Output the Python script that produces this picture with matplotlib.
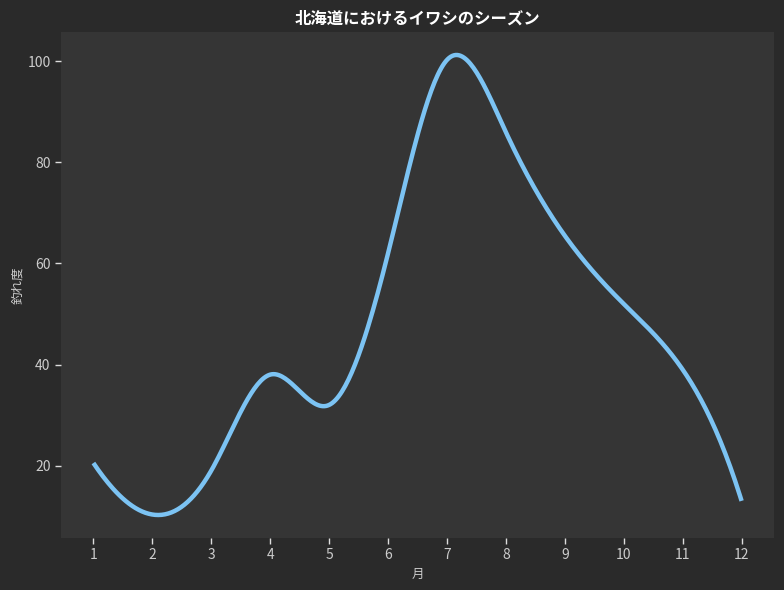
import numpy as np
import matplotlib
matplotlib.use("Agg")
import matplotlib.pyplot as plt

plt.rcParams['font.family'] = ['Noto Sans CJK JP', 'DejaVu Sans']

months = [1, 2, 3, 4, 5, 6, 7, 8, 9, 10, 11, 12]
catch_rate = [20.5, 10.3, 19.0, 38.0, 32.0, 62.0, 100.3, 86.0, 65.5, 52.0, 39.0, 13.0]
title = "北海道におけるイワシのシーズン"
xlabel = "月"
ylabel = "釣れ度"


def not_a_knot_spline(x, y, xs):
    x = np.asarray(x, float)
    y = np.asarray(y, float)
    n = len(x)
    h = np.diff(x)
    A = np.zeros((n, n))
    b = np.zeros(n)
    A[0, 0] = -1 / h[0]
    A[0, 1] = 1 / h[0] + 1 / h[1]
    A[0, 2] = -1 / h[1]
    for i in range(1, n - 1):
        A[i, i - 1] = h[i - 1]
        A[i, i] = 2 * (h[i - 1] + h[i])
        A[i, i + 1] = h[i]
        b[i] = 6 * ((y[i + 1] - y[i]) / h[i] - (y[i] - y[i - 1]) / h[i - 1])
    A[-1, -3] = -1 / h[-2]
    A[-1, -2] = 1 / h[-2] + 1 / h[-1]
    A[-1, -1] = -1 / h[-1]
    M = np.linalg.solve(A, b)
    idx = np.clip(np.searchsorted(x, xs) - 1, 0, n - 2)
    x0, x1 = x[idx], x[idx + 1]
    hh = x1 - x0
    return (M[idx] * (x1 - xs) ** 3 / (6 * hh) + M[idx + 1] * (xs - x0) ** 3 / (6 * hh)
            + (y[idx] / hh - M[idx] * hh / 6) * (x1 - xs)
            + (y[idx + 1] / hh - M[idx + 1] * hh / 6) * (xs - x0))


xs = np.linspace(min(months), max(months), 400)
ys = not_a_knot_spline(months, catch_rate, xs)

fig = plt.figure(figsize=(7.84, 5.90), dpi=100, facecolor='#2a2a2a')
ax = fig.add_axes([61 / 784, 1 - 538 / 590, (774 - 61) / 784, (538 - 32) / 590])
ax.set_facecolor('#353535')
ax.plot(xs, ys, color='#7cc3f3', linewidth=3.2, solid_capstyle='butt')

for s in ax.spines.values():
    s.set_visible(False)
ax.set_xticks(months)
ax.tick_params(colors='#dddddd', labelcolor='#cccccc', labelsize=10, length=4, width=1)
ax.set_title(title, color='white', fontsize=11.8, fontweight='bold', pad=6)
ax.set_xlabel(xlabel, color='#cccccc', fontsize=9, labelpad=4)
ax.set_ylabel(ylabel, color='#cccccc', fontsize=9, labelpad=2)

fig.savefig('out.png', dpi=100, facecolor=fig.get_facecolor())
